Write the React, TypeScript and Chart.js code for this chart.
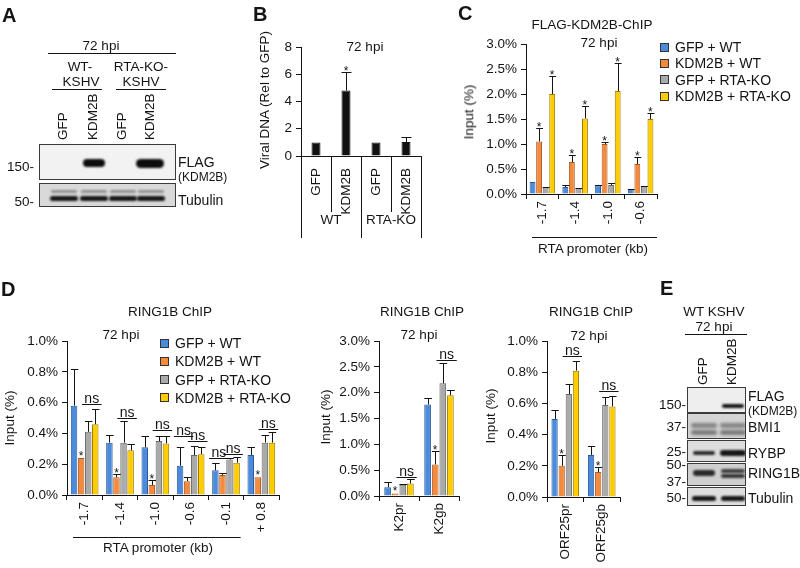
import React, { useEffect, useRef } from "react";
import { Chart, registerables } from "chart.js";
Chart.register(...registerables);

const FONT = "'Liberation Sans', Arial, Helvetica, sans-serif";
const INK = "#141414";
const W = 800;
const H = 568;

// ---------------- data ----------------
const seriesNames = ["GFP + WT", "KDM2B + WT", "GFP + RTA-KO", "KDM2B + RTA-KO"];
const seriesFill = ["#4a8bdc", "#f58a3c", "#aaaaaa", "#ffcc00"];
const seriesEdge = ["#2c5a96", "#a85a22", "#666666", "#9c7c00"];

// Panel B
const bCategories = ["GFP", "KDM2B", "GFP", "KDM2B"];
const bGroupNames = ["WT", "RTA-KO"];
const bGroupSizes = [2, 2];
const bValues = [1.0, 4.8, 1.0, 1.03];
const bErrTop = [null, 6.15, null, 1.37];
const bStar = [false, true, false, false];
const bYTicks = [0, 2, 4, 6, 8];

// Panel C (FLAG-KDM2B ChIP, % input)
const cCategories = ["-1.7", "-1.4", "-1.0", "-0.6"];
const cGfpWt = [0.24, 0.14, 0.17, 0.1];
const cGfpWtErr = [0.24, 0.19, 0.19, 0.11];
const cKdmWt = [1.05, 0.64, 1.0, 0.6];
const cKdmWtErr = [1.33, 0.79, 1.04, 0.75];
const cGfpKo = [0.13, 0.11, 0.18, 0.15];
const cGfpKoErr = [0.14, 0.13, 0.23, 0.16];
const cKdmKo = [2.0, 1.51, 2.06, 1.5];
const cKdmKoErr = [2.37, 1.76, 2.62, 1.63];
const cStarKdmWt = [true, true, true, true];
const cStarKdmKo = [true, true, true, true];
const cYTicks = [0, 0.5, 1.0, 1.5, 2.0, 2.5, 3.0];

// Panel D1 (RING1B ChIP, RTA promoter)
const d1Categories = ["-1.7", "-1.4", "-1.0", "-0.6", "-0.1", "+ 0.8"];
const d1GfpWt = [0.58, 0.34, 0.31, 0.19, 0.16, 0.26];
const d1GfpWtErr = [0.82, 0.39, 0.38, 0.31, 0.21, 0.31];
const d1KdmWt = [0.24, 0.115, 0.065, 0.09, 0.13, 0.115];
const d1KdmWtErr = [0.24, 0.135, 0.1, 0.12, 0.14, 0.115];
const d1GfpKo = [0.41, 0.34, 0.35, 0.26, 0.23, 0.34];
const d1GfpKoErr = [0.48, 0.48, 0.38, 0.32, 0.24, 0.39];
const d1KdmKo = [0.46, 0.29, 0.335, 0.265, 0.21, 0.34];
const d1KdmKoErr = [0.56, 0.33, 0.38, 0.31, 0.25, 0.41];
const d1StarKdmWt = [true, true, true, false, false, true];
const d1NsWt = [null, null, null, 0.38, 0.24, null];
const d1NsKo = [0.59, 0.5, 0.42, 0.35, 0.265, 0.43];
const d1YTicks = [0, 0.2, 0.4, 0.6, 0.8, 1.0];

// Panel D2 (RING1B ChIP, K2)
const d2Categories = ["K2pr", "K2gb"];
const d2GfpWt = [0.17, 1.77];
const d2GfpWtErr = [0.27, 1.9];
const d2KdmWt = [0.05, 0.61];
const d2KdmWtErr = [0.05, 0.87];
const d2GfpKo = [0.22, 2.18];
const d2GfpKoErr = [0.24, 2.57];
const d2KdmKo = [0.24, 1.95];
const d2KdmKoErr = [0.32, 2.05];
const d2StarKdmWt = [true, true];
const d2NsKo = [0.37, 2.64];
const d2YTicks = [0, 0.5, 1.0, 1.5, 2.0, 2.5, 3.0];

// Panel D3 (RING1B ChIP, ORF25)
const d3Categories = ["ORF25pr", "ORF25gb"];
const d3GfpWt = [0.5, 0.27];
const d3GfpWtErr = [0.56, 0.33];
const d3KdmWt = [0.2, 0.16];
const d3KdmWtErr = [0.27, 0.19];
const d3GfpKo = [0.66, 0.59];
const d3GfpKoErr = [0.725, 0.64];
const d3KdmKo = [0.81, 0.58];
const d3KdmKoErr = [0.875, 0.65];
const d3StarKdmWt = [true, true];
const d3NsKo = [0.905, 0.68];
const d3YTicks = [0, 0.2, 0.4, 0.6, 0.8, 1.0];

// ---------------- chart helpers ----------------
type Series = {
  label: string;
  values: number[];
  err: (number | null)[];
  star?: boolean[];
  fill: string;
  edge: string;
};
type Spec = {
  area: { left: number; right: number; top: number; bottom: number };
  categories: string[];
  yTicks: number[];
  yFmt: (v: number) => string;
  series: Series[];
  catPct: number;
  barPct: number;
  xTickMarks: boolean;
  xPad: number;
  ns?: { a: number; b: number; levels: (number | null)[] }[];
  underline?: { from: number; to: number; insetL: number; insetR: number; offset: number };
  groups?: { names: string[]; sizes: number[]; shortLen: number; longLen: number; labelOffset: number };
};

const four = (vals: number[][], errs: (number | null)[][], stars: (boolean[] | undefined)[]): Series[] =>
  seriesNames.map((label, i) => ({
    label,
    values: vals[i],
    err: errs[i],
    star: stars[i],
    fill: seriesFill[i],
    edge: seriesEdge[i],
  }));

const pct = (v: number) => v.toFixed(1) + "%";

function makePlugin(spec: Spec) {
  return {
    id: "annot",
    afterDraw(chart: any) {
      const ctx = chart.ctx as CanvasRenderingContext2D;
      const ys = chart.scales.y;
      const xs = chart.scales.x;
      const px = (v: number) => Math.round(v) + 0.5;
      ctx.save();
      ctx.strokeStyle = INK;
      ctx.fillStyle = INK;
      ctx.lineWidth = 1;
      // error bars + stars
      spec.series.forEach((s, di) => {
        const meta = chart.getDatasetMeta(di);
        meta.data.forEach((bar: any, i: number) => {
          const w = bar.width;
          let topY = bar.y;
          const e = s.err[i];
          if (e != null && e > s.values[i]) {
            const ey = px(ys.getPixelForValue(e));
            ctx.beginPath();
            ctx.moveTo(px(bar.x), bar.y);
            ctx.lineTo(px(bar.x), ey);
            ctx.moveTo(bar.x - w / 2, ey);
            ctx.lineTo(bar.x + w / 2 + 1, ey);
            ctx.stroke();
            topY = ey;
          }
          if (s.star && s.star[i]) {
            ctx.font = `12px ${FONT}`;
            ctx.textAlign = "center";
            ctx.textBaseline = "alphabetic";
            ctx.fillText("*", bar.x, topY + 2);
          }
        });
      });
      // ns brackets
      (spec.ns || []).forEach((n) => {
        const ma = chart.getDatasetMeta(n.a);
        const mb = chart.getDatasetMeta(n.b);
        n.levels.forEach((lv, i) => {
          if (lv == null) return;
          const ba = ma.data[i];
          const bb = mb.data[i];
          const x0 = ba.x - ba.width / 2 - 3;
          const x1 = bb.x + bb.width / 2 + 3;
          const y = px(ys.getPixelForValue(lv));
          ctx.beginPath();
          ctx.moveTo(x0, y);
          ctx.lineTo(x1, y);
          ctx.stroke();
          ctx.font = `14px ${FONT}`;
          ctx.textAlign = "center";
          ctx.textBaseline = "alphabetic";
          ctx.fillText("ns", (x0 + x1) / 2, y - 2);
        });
      });
      const n = spec.categories.length;
      const cw = (xs.right - xs.left) / n;
      const bottom = ys.bottom;
      if (spec.underline) {
        const u = spec.underline;
        const x0 = xs.left + u.from * cw + u.insetL;
        const x1 = xs.left + (u.to + 1) * cw - u.insetR;
        const y = px(bottom + u.offset);
        ctx.beginPath();
        ctx.moveTo(x0, y);
        ctx.lineTo(x1, y);
        ctx.stroke();
      }
      if (spec.groups) {
        const g = spec.groups;
        const vline = (x: number, len: number) => {
          ctx.beginPath();
          ctx.moveTo(px(x), bottom);
          ctx.lineTo(px(x), bottom + len);
          ctx.stroke();
        };
        vline(xs.left, g.longLen);
        let idx = 0;
        ctx.font = `13.5px ${FONT}`;
        ctx.textAlign = "center";
        ctx.textBaseline = "middle";
        g.sizes.forEach((size, gi) => {
          for (let k = 1; k < size; k++) vline(xs.left + (idx + k) * cw, g.shortLen);
          idx += size;
          vline(xs.left + idx * cw, g.longLen);
          const cx = xs.left + (idx - size / 2) * cw;
          ctx.fillText(g.names[gi], cx, bottom + g.labelOffset);
        });
      }
      ctx.restore();
    },
  };
}

function barConfig(spec: Spec): any {
  const yW = 45;
  const xH = 68;
  const t = spec.yTicks;
  return {
    type: "bar",
    data: {
      labels: spec.categories,
      datasets: spec.series.map((s) => ({
        label: s.label,
        data: s.values,
        backgroundColor: s.fill,
        borderColor: s.edge,
        borderWidth: 1,
        categoryPercentage: spec.catPct,
        barPercentage: spec.barPct,
      })),
    },
    options: {
      responsive: false,
      animation: false,
      devicePixelRatio: 1,
      events: [],
      layout: {
        padding: {
          left: spec.area.left - yW,
          right: W - spec.area.right,
          top: spec.area.top,
          bottom: H - spec.area.bottom - xH,
        },
      },
      plugins: { legend: { display: false }, tooltip: { enabled: false }, title: { display: false } },
      scales: {
        x: {
          grid: {
            display: spec.xTickMarks,
            drawOnChartArea: false,
            drawTicks: true,
            tickLength: 5,
            color: INK,
            lineWidth: 1,
          },
          border: { display: true, color: INK, width: 1 },
          ticks: {
            autoSkip: false,
            minRotation: 90,
            maxRotation: 90,
            padding: spec.xPad,
            color: INK,
            font: { family: FONT, size: 13.5 },
          },
          afterFit: (s: any) => {
            s.height = xH;
          },
        },
        y: {
          min: t[0],
          max: t[t.length - 1],
          afterBuildTicks: (s: any) => {
            s.ticks = t.map((v) => ({ value: v }));
          },
          ticks: {
            padding: 4,
            color: INK,
            font: { family: FONT, size: 13.5 },
            callback: (v: any) => spec.yFmt(Number(v)),
          },
          grid: { drawOnChartArea: false, drawTicks: true, tickLength: 5, color: INK, lineWidth: 1 },
          border: { display: true, color: INK, width: 1 },
          afterFit: (s: any) => {
            s.width = yW;
          },
        },
      },
    },
    plugins: [makePlugin(spec)],
  };
}

const specB: Spec = {
  area: { left: 301, right: 421, top: 47, bottom: 156 },
  categories: bCategories,
  yTicks: bYTicks,
  yFmt: (v) => String(v),
  series: [{ label: "Viral DNA", values: bValues, err: bErrTop, star: bStar, fill: "#111111", edge: "#111111" }],
  catPct: 0.3,
  barPct: 1,
  xTickMarks: false,
  xPad: 7,
  groups: { names: bGroupNames, sizes: bGroupSizes, shortLen: 56, longLen: 82, labelOffset: 64 },
};

const specC: Spec = {
  area: { left: 526, right: 657, top: 44, bottom: 194 },
  categories: cCategories,
  yTicks: cYTicks,
  yFmt: pct,
  series: four(
    [cGfpWt, cKdmWt, cGfpKo, cKdmKo],
    [cGfpWtErr, cKdmWtErr, cGfpKoErr, cKdmKoErr],
    [undefined, cStarKdmWt, undefined, cStarKdmKo]
  ),
  catPct: 0.8,
  barPct: 0.9,
  xTickMarks: true,
  xPad: 2,
  underline: { from: 0, to: 3, insetL: 6, insetR: 0, offset: 43 },
};

const specD1: Spec = {
  area: { left: 67, right: 279, top: 341, bottom: 495 },
  categories: d1Categories,
  yTicks: d1YTicks,
  yFmt: pct,
  series: four(
    [d1GfpWt, d1KdmWt, d1GfpKo, d1KdmKo],
    [d1GfpWtErr, d1KdmWtErr, d1GfpKoErr, d1KdmKoErr],
    [undefined, d1StarKdmWt, undefined, undefined]
  ),
  catPct: 0.8,
  barPct: 0.92,
  xTickMarks: true,
  xPad: 2,
  ns: [
    { a: 0, b: 1, levels: d1NsWt },
    { a: 2, b: 3, levels: d1NsKo },
  ],
  underline: { from: 0, to: 4, insetL: 6, insetR: 3, offset: 42 },
};

const specD2: Spec = {
  area: { left: 379, right: 459, top: 341, bottom: 496 },
  categories: d2Categories,
  yTicks: d2YTicks,
  yFmt: pct,
  series: four(
    [d2GfpWt, d2KdmWt, d2GfpKo, d2KdmKo],
    [d2GfpWtErr, d2KdmWtErr, d2GfpKoErr, d2KdmKoErr],
    [undefined, d2StarKdmWt, undefined, undefined]
  ),
  catPct: 0.76,
  barPct: 0.88,
  xTickMarks: true,
  xPad: 2,
  ns: [{ a: 2, b: 3, levels: d2NsKo }],
};

const specD3: Spec = {
  area: { left: 547, right: 620, top: 341, bottom: 497 },
  categories: d3Categories,
  yTicks: d3YTicks,
  yFmt: pct,
  series: four(
    [d3GfpWt, d3KdmWt, d3GfpKo, d3KdmKo],
    [d3GfpWtErr, d3KdmWtErr, d3GfpKoErr, d3KdmKoErr],
    [undefined, d3StarKdmWt, undefined, undefined]
  ),
  catPct: 0.78,
  barPct: 0.88,
  xTickMarks: true,
  xPad: 2,
  ns: [{ a: 2, b: 3, levels: d3NsKo }],
};

function ChartLayer({ spec }: { spec: Spec }) {
  const ref = useRef<HTMLCanvasElement>(null);
  useEffect(() => {
    const c = new Chart(ref.current as HTMLCanvasElement, barConfig(spec));
    return () => c.destroy();
  }, [spec]);
  return (
    <canvas
      ref={ref}
      width={W}
      height={H}
      style={{ position: "absolute", left: 0, top: 0, width: W, height: H, pointerEvents: "none" }}
    />
  );
}

// ---------------- HTML text helpers ----------------
type TP = { x: number; y: number; size?: number; bold?: boolean; anchor?: "start" | "middle" | "end"; children: React.ReactNode };
const T = ({ x, y, size = 13.5, bold, anchor = "middle", children }: TP) => (
  <div
    style={{
      position: "absolute",
      left: x,
      top: y,
      transform: `translate(${anchor === "start" ? "0" : anchor === "end" ? "-100%" : "-50%"}, -50%)`,
      font: `${bold ? "bold " : ""}${size}px ${FONT}`,
      lineHeight: 1,
      whiteSpace: "nowrap",
      color: INK,
    }}
  >
    {children}
  </div>
);
const VT = ({ x, y, size = 13.5, children }: TP) => (
  <div
    style={{
      position: "absolute",
      left: x,
      top: y,
      transform: "translate(-50%, -50%) rotate(-90deg)",
      font: `${size}px ${FONT}`,
      lineHeight: 1,
      whiteSpace: "nowrap",
      color: INK,
    }}
  >
    {children}
  </div>
);
const Up = ({ x, y, size = 13.5, children }: TP) => (
  <div
    style={{
      position: "absolute",
      left: x,
      top: y,
      transformOrigin: "0 0",
      transform: "rotate(-90deg) translate(0, -50%)",
      font: `${size}px ${FONT}`,
      lineHeight: 1,
      whiteSpace: "nowrap",
      color: INK,
    }}
  >
    {children}
  </div>
);
const HL = ({ x0, x1, y }: { x0: number; x1: number; y: number }) => (
  <div style={{ position: "absolute", left: x0, top: y, width: x1 - x0, height: 1, background: INK }} />
);

const Blot = ({ x, y, w, h, bg, children }: { x: number; y: number; w: number; h: number; bg: string; children?: React.ReactNode }) => (
  <div
    style={{
      position: "absolute",
      left: x,
      top: y,
      width: w,
      height: h,
      boxSizing: "border-box",
      border: "1px solid #3a3a3a",
      background: bg,
      overflow: "hidden",
    }}
  >
    {children}
  </div>
);
const Band = ({ cx, cy, w, h, o = 1, blur = 1 }: { cx: number; cy: number; w: number; h: number; o?: number; blur?: number }) => (
  <div
    style={{
      position: "absolute",
      left: cx - w / 2,
      top: cy - h / 2,
      width: w,
      height: h,
      borderRadius: h / 2,
      background: `rgba(12,12,12,${o})`,
      filter: `blur(${blur}px)`,
    }}
  />
);

const Legend = ({ x, y, step }: { x: number; y: number; step: number }) => (
  <>
    {seriesNames.map((n, i) => (
      <React.Fragment key={n}>
        <div
          style={{
            position: "absolute",
            left: x,
            top: y + i * step - 4.5,
            width: 9,
            height: 9,
            boxSizing: "border-box",
            border: "1px solid #333",
            background: seriesFill[i],
          }}
        />
        <T x={x + 15} y={y + i * step} size={14} anchor="start">
          {n}
        </T>
      </React.Fragment>
    ))}
  </>
);

export default function App() {
  const aLanes = [63, 93, 122, 150];
  const aLaneNames = ["GFP", "KDM2B", "GFP", "KDM2B"];
  const eLanes = [703, 732];
  const eLaneNames = ["GFP", "KDM2B"];
  return (
    <div
      style={{
        position: "absolute",
        left: 0,
        top: 0,
        width: W,
        height: H,
        background: "#fff",
        overflow: "hidden",
        fontFamily: FONT,
      }}
    >
      <ChartLayer spec={specB} />
      <ChartLayer spec={specC} />
      <ChartLayer spec={specD1} />
      <ChartLayer spec={specD2} />
      <ChartLayer spec={specD3} />

      {/* panel letters */}
      <T x={2} y={15} size={20} bold anchor="start">A</T>
      <T x={253} y={14} size={20} bold anchor="start">B</T>
      <T x={458} y={13} size={20} bold anchor="start">C</T>
      <T x={1} y={289} size={20} bold anchor="start">D</T>
      <T x={660} y={288} size={20} bold anchor="start">E</T>

      {/* Panel A blot */}
      <T x={101} y={46}>72 hpi</T>
      <HL x0={48} x1={176} y={53} />
      <T x={80} y={67}>WT-</T>
      <T x={81} y={82}>KSHV</T>
      <HL x0={52} x1={102} y={89} />
      <T x={141} y={67}>RTA-KO-</T>
      <T x={141} y={82}>KSHV</T>
      <HL x0={116} x1={166} y={89} />
      {aLanes.map((x, i) => (
        <Up key={i} x={x} y={140}>
          {aLaneNames[i]}
        </Up>
      ))}
      <Blot x={39} y={144} w={137} h={36} bg="#f2f2f2">
        <Band cx={54} cy={18} w={22} h={8} o={1} />
        <Band cx={110} cy={18} w={28} h={9} o={1} />
      </Blot>
      <Blot x={39} y={183} w={137} h={24} bg="#d9d9d9">
        {aLanes.map((x, i) => (
          <React.Fragment key={i}>
            <Band cx={x - 39} cy={7} w={26} h={3} o={0.35} />
            <Band cx={x - 39} cy={14} w={28} h={5} o={0.95} />
          </React.Fragment>
        ))}
      </Blot>
      <T x={34} y={167} anchor="end">150-</T>
      <T x={34} y={202} anchor="end">50-</T>
      <T x={178} y={162} anchor="start" size={14}>FLAG</T>
      <T x={178} y={177} anchor="start" size={12}>(KDM2B)</T>
      <T x={178} y={200} anchor="start" size={14}>Tubulin</T>

      {/* Panel B texts */}
      <T x={365} y={47}>72 hpi</T>
      <VT x={265} y={100} size={13.5}>Viral DNA (Rel to GFP)</VT>

      {/* Panel C texts */}
      <T x={592} y={25}>FLAG-KDM2B-ChIP</T>
      <T x={599} y={43}>72 hpi</T>
      <VT x={469} y={112}>Input (%)</VT>
      <T x={593} y={249}>RTA promoter (kb)</T>
      <Legend x={660} y={47} step={16.4} />

      {/* Panel D texts */}
      <T x={170} y={312}>RING1B ChIP</T>
      <T x={121} y={335}>72 hpi</T>
      <VT x={10} y={418}>Input (%)</VT>
      <T x={158} y={548}>RTA promoter (kb)</T>
      <Legend x={160} y={343} step={18.3} />

      <T x={422} y={312}>RING1B ChIP</T>
      <T x={419} y={335}>72 hpi</T>
      <VT x={326} y={417}>Input (%)</VT>

      <T x={591} y={312}>RING1B ChIP</T>
      <T x={589} y={336}>72 hpi</T>
      <VT x={491} y={416}>Input (%)</VT>

      {/* Panel E blot */}
      <T x={714} y={312}>WT KSHV</T>
      <T x={714} y={327}>72 hpi</T>
      <HL x0={685} x1={747} y={334} />
      {eLanes.map((x, i) => (
        <Up key={i} x={x} y={385}>
          {eLaneNames[i]}
        </Up>
      ))}
      <Blot x={687} y={387} w={59} h={26} bg="#eeeeee">
        <Band cx={45} cy={18} w={22} h={4} o={0.95} />
      </Blot>
      <Blot x={687} y={413} w={59} h={26} bg="#d4d4d4">
        {eLanes.map((x, i) => (
          <React.Fragment key={i}>
            <Band cx={x - 687} cy={11} w={26} h={5} o={0.4} blur={1.5} />
            <Band cx={x - 687} cy={18} w={26} h={5} o={0.45} blur={1.5} />
          </React.Fragment>
        ))}
      </Blot>
      <Blot x={687} y={440} w={59} h={22} bg="#dddddd">
        <Band cx={16} cy={12} w={22} h={4} o={0.85} />
        <Band cx={45} cy={12} w={26} h={6} o={0.95} />
      </Blot>
      <Blot x={687} y={463} w={59} h={23} bg="#cfcfcf">
        <Band cx={16} cy={9} w={22} h={6} o={0.85} />
        <Band cx={45} cy={7} w={24} h={4} o={0.75} />
        <Band cx={45} cy={12} w={24} h={4} o={0.8} />
      </Blot>
      <Blot x={687} y={487} w={59} h={19} bg="#dedede">
        <Band cx={16} cy={10} w={24} h={5} o={0.95} />
        <Band cx={45} cy={10} w={24} h={5} o={0.95} />
      </Blot>
      <T x={686} y={405} anchor="end">150-</T>
      <T x={686} y={427} anchor="end">37-</T>
      <T x={686} y={452} anchor="end">25-</T>
      <T x={686} y={465} anchor="end">50-</T>
      <T x={686} y={482} anchor="end">37-</T>
      <T x={686} y={498} anchor="end">50-</T>
      <T x={748} y={396} anchor="start" size={14}>FLAG</T>
      <T x={748} y={411} anchor="start" size={12}>(KDM2B)</T>
      <T x={748} y={427} anchor="start" size={14}>BMI1</T>
      <T x={748} y={453} anchor="start" size={14}>RYBP</T>
      <T x={748} y={473} anchor="start" size={14}>RING1B</T>
      <T x={748} y={498} anchor="start" size={14}>Tubulin</T>
    </div>
  );
}
